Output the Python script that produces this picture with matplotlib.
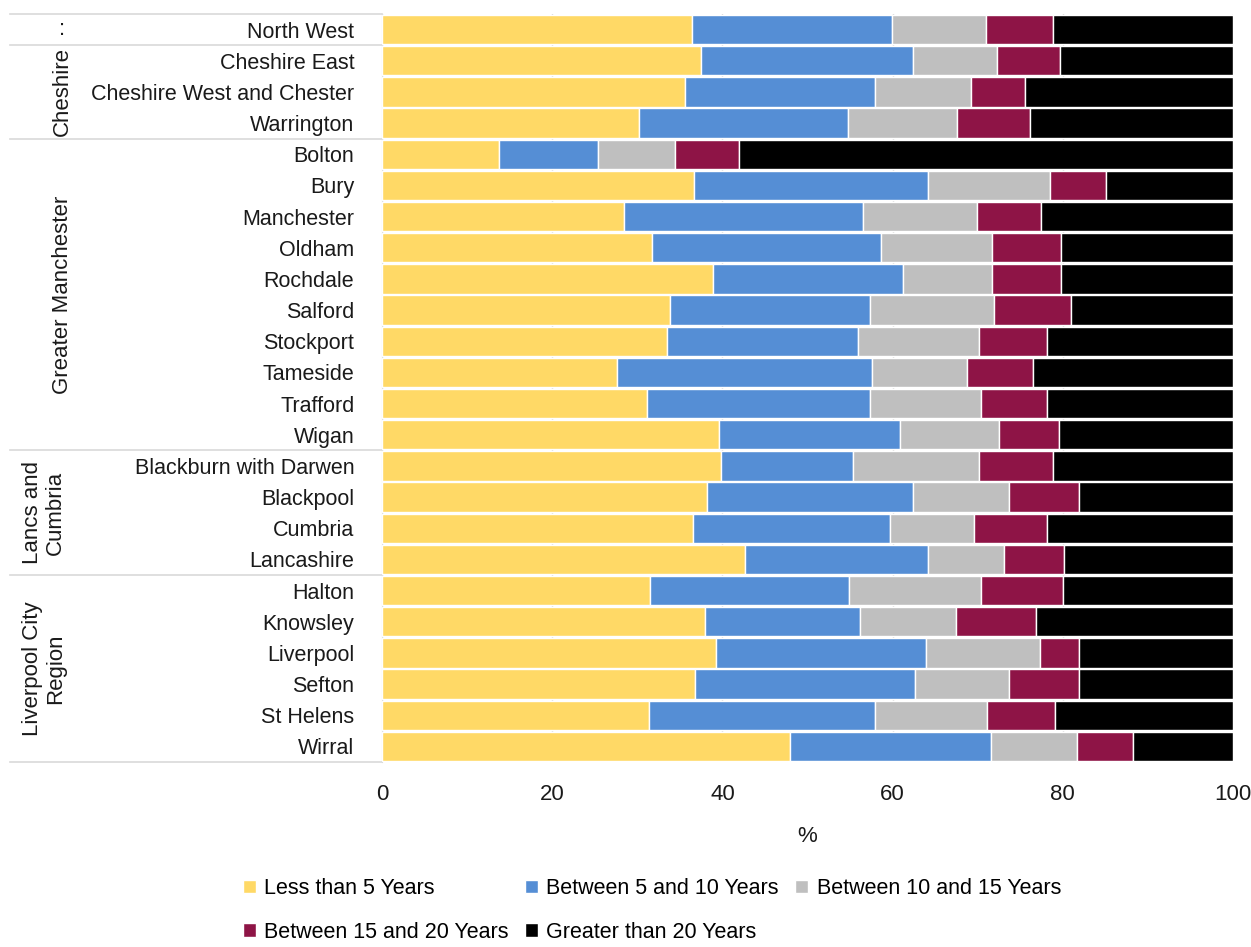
import matplotlib
matplotlib.use("Agg")
import matplotlib.pyplot as plt
import matplotlib.transforms as mtransforms
import numpy as np

# === DADOS ===
areas = ["North West",
         "Cheshire East", "Cheshire West and Chester", "Warrington",
         "Bolton", "Bury", "Manchester", "Oldham", "Rochdale", "Salford",
         "Stockport", "Tameside", "Trafford", "Wigan",
         "Blackburn with Darwen", "Blackpool", "Cumbria", "Lancashire",
         "Halton", "Knowsley", "Liverpool", "Sefton", "St Helens", "Wirral"]

grupos = [":", "Cheshire", "Greater Manchester", "Lancs and\nCumbria", "Liverpool City\nRegion"]
tam_grupos = [1, 3, 10, 4, 6]

series = ["Less than 5 Years", "Between 5 and 10 Years", "Between 10 and 15 Years",
          "Between 15 and 20 Years", "Greater than 20 Years"]

menos_5 = [36.4, 37.5, 35.6, 30.2, 13.8, 36.7, 28.4, 31.7, 38.9, 33.8, 33.5, 27.6,
           31.1, 39.6, 39.8, 38.2, 36.5, 42.7, 31.5, 37.9, 39.2, 36.8, 31.4, 47.9]
de_5_a_10 = [23.5, 24.9, 22.3, 24.5, 11.6, 27.5, 28.1, 26.9, 22.3, 23.6, 22.4, 30.0,
             26.2, 21.3, 15.5, 24.2, 23.2, 21.4, 23.4, 18.3, 24.7, 25.8, 26.5, 23.7]
de_10_a_15 = [11.1, 9.9, 11.3, 12.9, 9.0, 14.3, 13.4, 13.1, 10.5, 14.5, 14.2, 11.1,
              13.1, 11.6, 14.8, 11.3, 9.9, 9.0, 15.5, 11.3, 13.4, 11.1, 13.2, 10.1]
de_15_a_20 = [7.8, 7.4, 6.4, 8.5, 7.5, 6.6, 7.5, 8.1, 8.1, 9.1, 8.0, 7.8,
              7.8, 7.1, 8.7, 8.2, 8.6, 7.0, 9.6, 9.4, 4.6, 8.2, 8.0, 6.6]
mais_20 = [21.2, 20.3, 24.4, 23.9, 58.1, 14.9, 22.6, 20.2, 20.2, 19.0, 21.9, 23.5,
           21.8, 20.4, 21.2, 18.1, 21.8, 19.9, 20.0, 23.1, 18.1, 18.1, 20.9, 11.7]

cores = ["#FFD966", "#558ED5", "#BFBFBF", "#8E1446", "#000000"]
TXT = "#1a1a1a"

# === PLOT ===
plt.rcParams['font.family'] = ['Liberation Sans', 'DejaVu Sans']
fig = plt.figure(figsize=(12.51, 9.47), dpi=100)
ax = fig.add_axes([0.3054, 0.1954, 0.6802, 0.7898])

y = np.arange(len(areas))
esquerda = np.zeros(len(areas))
barras = []
for nome, vals, cor in zip(series, [menos_5, de_5_a_10, de_10_a_15, de_15_a_20, mais_20], cores):
    b = ax.barh(y, vals, left=esquerda, height=0.94, color=cor, edgecolor="white",
                linewidth=1.0, label=nome, zorder=3)
    barras.append(b)
    esquerda += np.array(vals)

ax.set_xlim(0, 100)
ax.set_ylim(len(areas) - 0.5, -0.5)
ax.set_xticks([0, 20, 40, 60, 80, 100])
ax.xaxis.grid(True, color="#D9D9D9", linewidth=1.0, zorder=0)
ax.set_axisbelow(True)
ax.tick_params(axis="x", length=0, labelsize=16, pad=16, colors=TXT)
ax.set_yticks(y)
ax.set_yticklabels(areas, fontsize=15.5)
ax.tick_params(axis="y", length=0, pad=20, colors=TXT)
for lado in ["top", "right", "bottom"]:
    ax.spines[lado].set_visible(False)
ax.spines["left"].set_color("#D9D9D9")
ax.set_xlabel("%", fontsize=16, labelpad=15, color=TXT)

# === GRUPOS (eixo multinível) ===
trans = mtransforms.blended_transform_factory(ax.transAxes, ax.transData)
inicio = -0.5
x_esq = (10 - 382) / 851
ax.plot([x_esq, 0], [inicio, inicio], transform=trans, color="#D9D9D9", lw=1.2, clip_on=False)
for g, n in zip(grupos, tam_grupos):
    fim = inicio + n
    ax.plot([x_esq, 0], [fim, fim], transform=trans, color="#D9D9D9", lw=1.2, clip_on=False)
    rot = 0 if g == ":" else 90
    xg = (62 - 382) / 851 if "\n" not in g else (44 - 382) / 851
    ax.text(xg, (inicio + fim) / 2, g, transform=trans, rotation=rot, ha="center",
            va="center", fontsize=16, color=TXT, linespacing=1.1)
    inicio = fim

# === LEGENDA ===
ordem = [0, 3, 1, 4, 2]
fig.legend([barras[i] for i in ordem], [series[i] for i in ordem], loc="lower center",
           bbox_to_anchor=(0.521, -0.016), ncol=3, frameon=False, fontsize=15.5,
           handlelength=0.6, handleheight=0.6, handletextpad=0.4, columnspacing=0.75,
           labelspacing=1.05)

fig.savefig("out.png", dpi=100)
